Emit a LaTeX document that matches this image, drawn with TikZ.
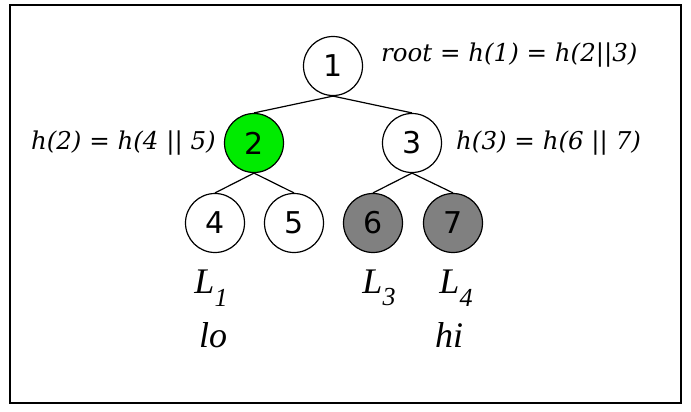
\documentclass[tikz,border=0pt]{standalone}
\usepackage{fontspec}
\setmainfont{Liberation Serif}
\newfontfamily\digitfont{DejaVu Sans}
\newfontfamily\labelfont{DejaVu Serif}
\usetikzlibrary{positioning}
\definecolor{nodegreen}{RGB}{0,235,0}
\definecolor{nodegray}{RGB}{128,128,128}
\newcommand{\leafname}[2]{#1\raisebox{-.35em}{\fontsize{26}{26}\selectfont #2}}

\begin{document}
\begin{tikzpicture}[x=1pt, y=-1pt,
  vert/.style={draw, circle, line width=1.2pt, minimum size=59pt, inner sep=0pt, font=\digitfont\fontsize{30}{30}\selectfont},
  sel/.style={vert, fill=nodegreen}, hid/.style={vert, fill=nodegray},
  hashlab/.style={inner sep=0pt, font=\labelfont\itshape\fontsize{24.5}{24.5}\selectfont},
  leaflab/.style={inner sep=0pt, font=\itshape\fontsize{36}{36}\selectfont},
  edge/.style={line width=1.2pt}]
  \useasboundingbox (0,0) rectangle (691,412);
  \draw[line width=2.5pt] (10,5) rectangle (681,403);
  \node[vert] (n1) at (333,66) {1};
  \node[sel] (n2) at (254,143) {2};
  \node[vert] (n3) at (412,143) {3};
  \node[vert] (n4) at (215,223) {4};
  \node[vert] (n5) at (294,223) {5};
  \node[hid] (n6) at (373,223) {6};
  \node[hid] (n7) at (453,223) {7};
  \draw[edge] (n1.south) -- (n2.north); \draw[edge] (n1.south) -- (n3.north);
  \draw[edge] (n2.south) -- (n4.north); \draw[edge] (n2.south) -- (n5.north);
  \draw[edge] (n3.south) -- (n6.north); \draw[edge] (n3.south) -- (n7.north);
  \node[hashlab, anchor=west] (rootlab) at (381,55) {root = h(1) = h(2||3)};
  \node[hashlab, anchor=east] (lab2) at (216,143) {h(2) = h(4 || 5)};
  \node[hashlab, anchor=west] (lab3) at (456,143) {h(3) = h(6 || 7)};
  \node[leaflab] (l1) at (211,288) {\leafname{L}{1}};
  \node[leaflab] (l3) at (379,288) {\leafname{L}{3}};
  \node[leaflab] (l4) at (456,288) {\leafname{L}{4}};
  \node[leaflab] (lo) at (213,335) {lo};
  \node[leaflab] (hi) at (449,335) {hi};
\end{tikzpicture}
\end{document}
